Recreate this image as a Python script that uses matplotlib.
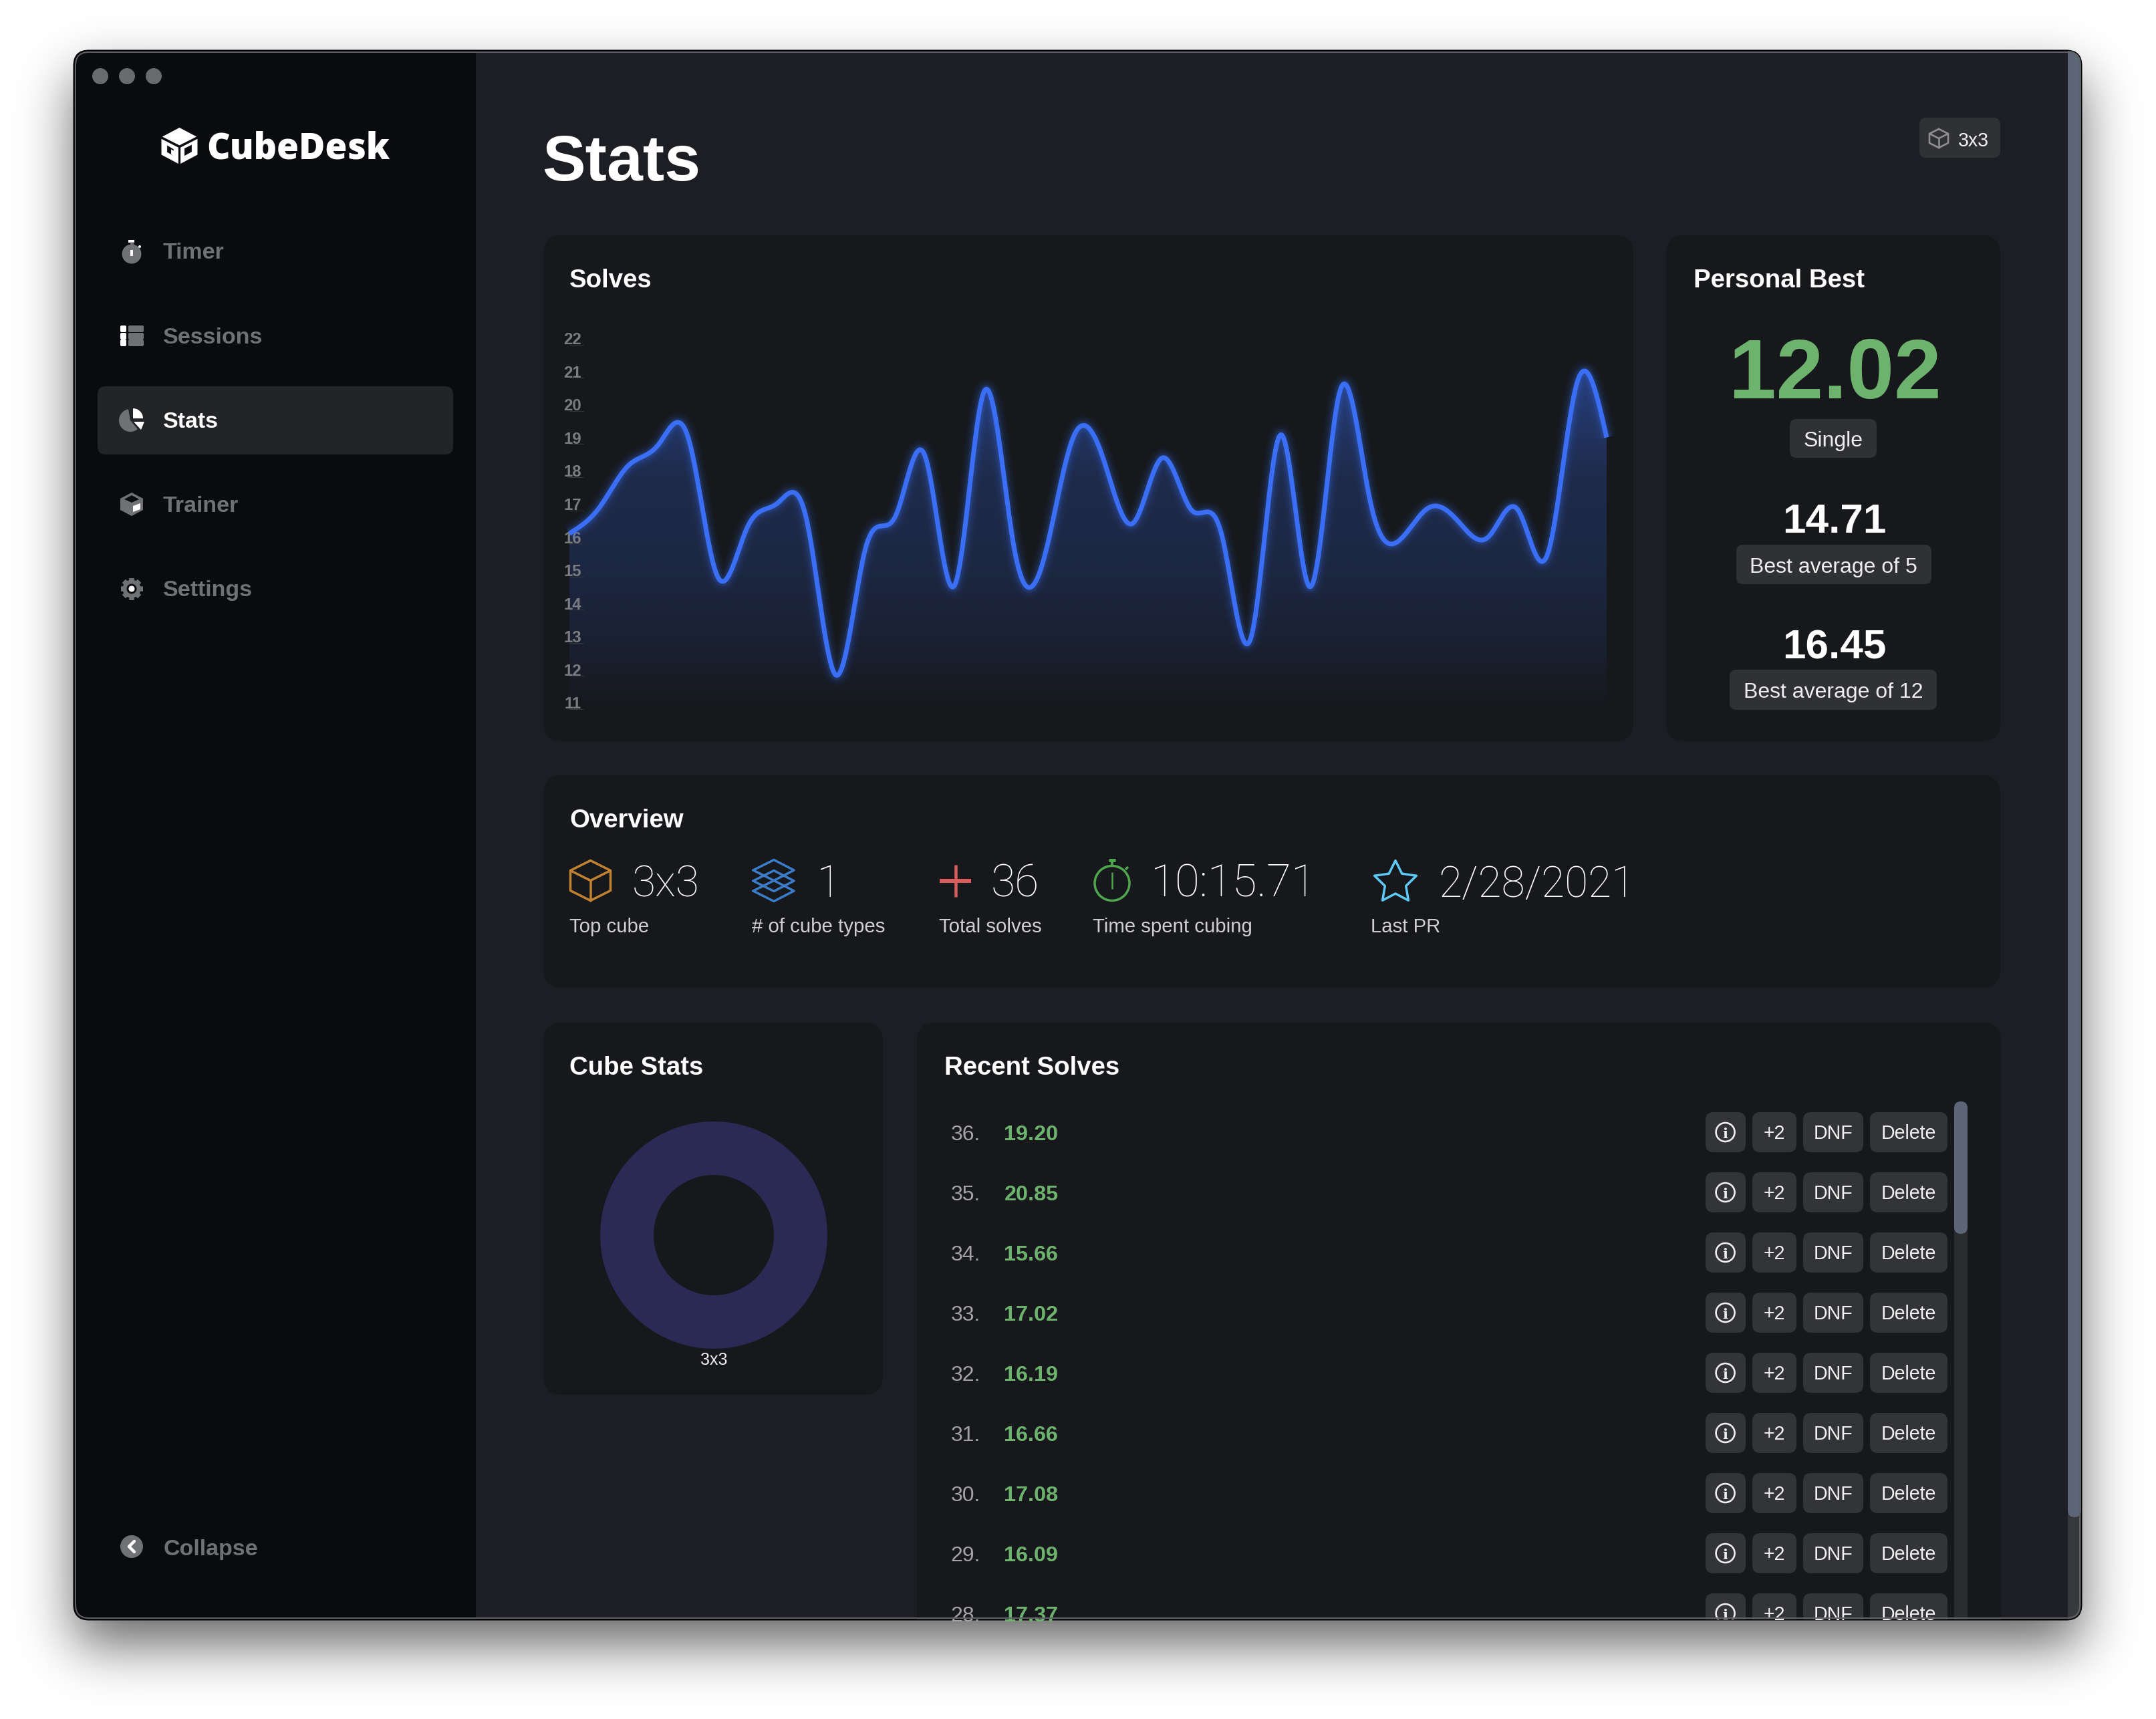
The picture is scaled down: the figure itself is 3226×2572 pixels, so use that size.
import math
import numpy as np
import matplotlib
matplotlib.use("Agg")
import matplotlib.pyplot as plt
import matplotlib.transforms as mtrans
from matplotlib.patches import FancyBboxPatch, Rectangle, Circle, Polygon, PathPatch
from matplotlib.path import Path
from matplotlib.lines import Line2D

# ---------- data ----------
solve_times = [16.30, 17.07, 18.36, 18.98, 19.22, 15.00, 16.48, 17.20, 16.73, 12.02,
               15.88, 16.82, 18.64, 14.74, 20.60, 15.90, 15.50, 19.20, 18.60, 16.60,
               18.58, 17.00, 16.30, 13.16, 19.28, 14.69, 20.60, 17.37, 16.09, 17.08,
               16.66, 16.19, 17.02, 15.66, 20.85, 19.20]
y_ticks = list(range(11, 23))
cube_names = ["3x3"]
cube_counts = [36]
pb_values = ["12.02", "14.71", "16.45"]
pb_labels = ["Single", "Best average of 5", "Best average of 12"]
overview_values = ["3x3", "1", "36", "10:15.71", "2/28/2021"]
overview_labels = ["Top cube", "# of cube types", "Total solves", "Time spent cubing", "Last PR"]
nav_items = ["Timer", "Sessions", "Stats", "Trainer", "Settings"]
row_buttons = ["+2", "DNF", "Delete"]
recent_count = 9

# ---------- canvas ----------
W, H = 3226, 2572
DPI = 100
FONT = "Liberation Sans"
def fs(px):
    return px * 72.0 / DPI

SIDEBAR = "#0a0b0e"; MAIN = "#1d1e23"; PANEL = "#16181c"; PILL = "#2f3135"; BTN = "#333438"
BLUE = "#3a6ff5"; GREEN = "#6db36d"; GREY = "#707174"; SLATE = "#5c6678"

fig = plt.figure(figsize=(W / DPI, H / DPI), dpi=DPI, facecolor="white")
ui = fig.add_axes([0, 0, 1, 1])
ui.set_axis_off()

WX0, WY0, WX1, WY1 = 111, 76, 3114, 2423

# soft window shadow
erf = np.vectorize(math.erf)
def blur(x0, y0, x1, y1, s):
    xs = np.arange(W) + .5; ys = np.arange(H) + .5
    bx = .5 * (erf((xs - x0) / (s * 2**.5)) - erf((xs - x1) / (s * 2**.5)))
    by = .5 * (erf((ys - y0) / (s * 2**.5)) - erf((ys - y1) / (s * 2**.5)))
    return np.outer(by, bx)
shadow = .6 * blur(WX0, WY0 + 38, WX1, WY1 + 38, 40)
ui.imshow(1 - shadow, cmap="gray", vmin=0, vmax=1, extent=(0, W, H, 0), aspect="auto", zorder=0)
ui.set_xlim(0, W); ui.set_ylim(H, 0)

win = FancyBboxPatch((WX0, WY0), WX1 - WX0, WY1 - WY0, boxstyle="round,pad=0,rounding_size=22",
                     fc=MAIN, ec="#000000", lw=fs(3), zorder=1)
ui.add_patch(win)

def rr(x0, y0, x1, y1, r, color, z=2):
    p = FancyBboxPatch((x0, y0), x1 - x0, y1 - y0, boxstyle=f"round,pad=0,rounding_size={r}",
                       fc=color, ec="none", lw=0, zorder=z)
    ui.add_patch(p); p.set_clip_path(win)
    return p

def t(x, y, s, px, color="white", weight="normal", ha="left", family=FONT, z=6):
    o = ui.text(x, y, s, fontsize=fs(px), color=color, fontweight=weight, ha=ha,
                va="center_baseline", family=family, zorder=z)
    o.set_clip_path(win)
    return o

def line(xs, ys, color, lw, z=5, join="round", cap="round"):
    l = Line2D(xs, ys, color=color, lw=fs(lw), zorder=z, solid_joinstyle=join, solid_capstyle=cap)
    ui.add_line(l); l.set_clip_path(win)

def poly(pts, color, z=5):
    p = Polygon(pts, closed=True, fc=color, ec="none", zorder=z)
    ui.add_patch(p)

def circ(x, y, r, fc, ec="none", lw=0, z=5):
    c = Circle((x, y), r, fc=fc, ec=ec, lw=fs(lw), zorder=z)
    ui.add_patch(c); c.set_clip_path(win)

def arc(cx, cy, r, a0, a1, n=40):
    a = np.radians(np.linspace(a0, a1, n))
    return list(zip(cx + r * np.cos(a), cy - r * np.sin(a)))

# sidebar
side = Rectangle((WX0, WY0), 712 - WX0, WY1 - WY0, fc=SIDEBAR, ec="none", zorder=2)
ui.add_patch(side); side.set_clip_path(win)
for cx in (150, 190, 230):
    circ(cx, 114, 12, "#6a6b6e")

# logo
def cube_logo(cx, cy, s, color, bg):
    top = [(cx, cy - s), (cx + .95 * s, cy - .5 * s), (cx, cy - .02 * s), (cx - .95 * s, cy - .5 * s)]
    poly(top, color)
    left = [(cx - s, cy - .38 * s), (cx - .06 * s, cy + .1 * s), (cx - .06 * s, cy + s), (cx - s, cy + .5 * s)]
    right = [(cx + s, cy - .38 * s), (cx + .06 * s, cy + .1 * s), (cx + .06 * s, cy + s), (cx + s, cy + .5 * s)]
    poly(left, color); poly(right, color)
    poly([(cx - .68 * s, cy - .02 * s), (cx - .32 * s, cy + .2 * s), (cx - .32 * s, cy + .28 * s), (cx - .46 * s, cy + .2 * s),
          (cx - .46 * s, cy + .5 * s), (cx - .32 * s, cy + .56 * s), (cx - .32 * s, cy + .56 * s), (cx - .68 * s, cy + .36 * s)], bg, 5.5)
    poly([(cx + .28 * s, cy + .15 * s), (cx + .68 * s, cy - .05 * s), (cx + .68 * s, cy + .34 * s), (cx + .28 * s, cy + .56 * s)], bg, 5.5)
cube_logo(268.5, 218, 27, "white", SIDEBAR)
t(309, 216, "CubeDesk", 53.5, weight=800, family="Open Sans")

# nav
rr(146, 578, 678, 680, 12, "#232427", 3)
nav_y = [375, 502, 628, 754, 880]
for name, y in zip(nav_items, nav_y):
    t(244, y, name, 34, color="white" if name == "Stats" else GREY, weight="bold")
# timer icon
circ(197, 380, 14.5, GREY); line([192, 201], [361, 361], "white", 4, cap="butt"); line([197, 197], [362, 366], GREY, 5, cap="butt")
line([197, 197], [374, 383], "white", 4, cap="butt"); circ(209, 369, 2, "white")
# sessions icon
for y0 in (487, 498, 508):
    rr(180, y0, 189, y0 + 10, 2, "white", 5); rr(192, y0, 215, y0 + 10, 2, GREY, 5)
# stats icon
poly([(195, 629)] + arc(195, 629, 17, 100, 310), GREY)
poly([(199, 626)] + arc(199, 626, 15, 0, 90), "white")
poly([(200, 631), (216, 631), (211, 643)], "white")
# trainer icon
poly([(197, 737), (214, 746), (214, 763), (197, 772), (180, 763), (180, 746)], GREY)
poly([(197, 741), (208, 747), (197, 752), (186, 747)], SIDEBAR, 5.5)
poly([(199, 757), (210, 753), (210, 762), (199, 766)], "white", 5.5)
# settings icon
for a in range(0, 360, 45):
    c, s_ = math.cos(math.radians(a)), math.sin(math.radians(a))
    line([197, 197 + 16.5 * c], [881, 881 + 16.5 * s_], GREY, 7.5, cap="butt")
circ(197, 881, 13.5, GREY); circ(197, 881, 7.5, SIDEBAR, z=5.5); circ(197, 881, 4.5, "white", z=5.6)
# collapse icon
circ(197, 2314, 17, GREY)
line([201, 193, 201], [2306, 2314, 2322], "white", 4.5, z=5.5)
t(245, 2315, "Collapse", 34, color=GREY, weight="bold")

# main scrollbar
rr(3094, WY0, 3114, WY1 + 20, 0, "#37383b", 2.5)
rr(3094, WY0 - 20, 3114, 2270, 10, SLATE, 2.6)

# title + badge
t(811, 235, "Stats", 97, weight="bold")
rr(2872, 176, 2993, 236, 10, PILL)
def cube_outline(cx, cy, s, color, lw):
    line([cx, cx + s, cx + s, cx, cx - s, cx - s, cx], [cy - s, cy - .5 * s, cy + .5 * s, cy + s, cy + .5 * s, cy - .5 * s, cy - s], color, lw)
    line([cx - s, cx, cx + s], [cy - .5 * s, cy, cy - .5 * s], color, lw)
    line([cx, cx], [cy, cy + s], color, lw)
cube_outline(2901, 207, 14, "#8f8f91", 2.6)
t(2930, 208, "3x3", 28.5, color="#f4f4f4")

# panels
rr(813, 352, 2444, 1109, 28, PANEL)
rr(2493, 352, 2993, 1109, 28, PANEL)
rr(813, 1160, 2993, 1478, 28, PANEL)
rr(813, 1530, 1321, 2087, 28, PANEL)
rr(1372, 1530, 2994, 2520, 28, PANEL)
t(852, 416, "Solves", 38.4, weight="bold")
t(2534, 416, "Personal Best", 38.4, weight="bold")
t(852, 1224, "Overview", 38.4, weight="bold")
t(852, 1594, "Cube Stats", 38.4, weight="bold")
t(1413, 1594, "Recent Solves", 38.4, weight="bold")

# personal best
PBX = 2745
t(PBX + .5, 550, pb_values[0], 127, color=GREEN, weight="bold", ha="center")
t(PBX, 775, pb_values[1], 62, weight="bold", ha="center")
t(PBX, 963, pb_values[2], 62, weight="bold", ha="center")
for (x0, x1, y0, y1), lab in zip([(2678, 2808, 627, 685), (2598, 2890, 815, 874), (2588, 2898, 1002, 1062)], pb_labels):
    rr(x0, y0, x1, y1, 10, PILL)
    t(2743, (y0 + y1) / 2 + .5, lab, 32, color="#eeeeee", ha="center")

# overview
ov_val_x = [946, 1222, 1483, 1722, 2152]
ov_lab_x = [852, 1125, 1405, 1635, 2051]
ov_val_px = [64, 66, 66, 67.5, 64]
for x, s, p in zip(ov_val_x, overview_values, ov_val_px):
    t(x, 1317, s, p, color="white", weight="light", family="Roboto")
for x, s in zip(ov_lab_x, overview_labels):
    t(x, 1384, s, 29.4, color="#cfcfd1")
# cube icon
cube_outline(883.5, 1317.5, 30, "#c08230", 3.5)
# layers icon
for cy in (1302, 1318, 1333):
    line([1127, 1158, 1188, 1158, 1127], [cy, cy - 15.5, cy, cy + 15.5, cy], "#3b7cc9", 3.5)
# plus icon
line([1406, 1453], [1318, 1318], "#d95d5d", 6, cap="butt"); line([1430, 1430], [1294, 1342], "#d95d5d", 4.5, cap="butt")
# stopwatch icon
circ(1664, 1321.5, 26, "none", "#4fa64f", 3.5); line([1664, 1664], [1305, 1330], "#4fa64f", 2.5, cap="butt")
line([1664, 1664], [1286, 1295], "#4fa64f", 3.5, cap="butt"); line([1659, 1669], [1287, 1287], "#4fa64f", 5, cap="butt")
line([1684, 1688], [1301, 1297], "#4fa64f", 3.5, cap="butt")
# star icon
star = []
for i in range(10):
    r = 33 if i % 2 == 0 else 16.5
    a = math.radians(90 + 36 * i)
    star.append((2088 + r * math.cos(a), 1320.5 - r * math.sin(a)))
ui.add_patch(Polygon(star, closed=True, fc="none", ec="#5cc8f5", lw=fs(3.5), zorder=5, joinstyle="round"))

# recent solves rows
rr(2924, 1648, 2944, WY1 + 30, 10, "#2b2c2e")
rr(2924, 1648, 2944, 1846, 10, SLATE, 3)
btn_spans = [(2622, 2688), (2698, 2788), (2798, 2914)]
for k in range(recent_count):
    y = 1694 + 90 * k
    t(1467, y, f"{len(solve_times) - k}.", 32, color="#a3a3a6", ha="right")
    t(1502.5, y, f"{solve_times[-1 - k]:.2f}", 32.4, color=GREEN, weight="bold")
    rr(2552, y - 30, 2612, y + 30, 12, BTN, 4)
    circ(2581.6, y, 14, "none", "#f0f0f0", 2.6)
    t(2581.6, y + 1, "i", 21, color="#f0f0f0", weight="bold", ha="center", family="DejaVu Serif")
    for (x0, x1), s in zip(btn_spans, row_buttons):
        rr(x0, y - 30, x1, y + 30, 12, BTN, 4)
        t((x0 + x1) / 2, y - .5, s, 28.5, color="#f2f2f2", ha="center")

# thin light inner edge of the window
inner = FancyBboxPatch((WX0 + 2, WY0 + 2), WX1 - WX0 - 4, WY1 - WY0 - 4, boxstyle="round,pad=0,rounding_size=20",
                       fc="none", ec="#5f6063", lw=fs(2), zorder=7)
ui.add_patch(inner)

# ---------- solves chart ----------
ch = fig.add_axes([852 / W, 1 - 1060.8 / H, (2404 - 852) / W, 545 / H], facecolor="none")
n = len(solve_times)
xd = np.arange(1, n + 1, dtype=float)
yd = np.array(solve_times)
# natural cubic spline through the solves
A = np.zeros((n, n)); b = np.zeros(n)
A[0, 0] = A[-1, -1] = 1
for i in range(1, n - 1):
    A[i, i - 1:i + 2] = 1, 4, 1
    b[i] = 6 * (yd[i + 1] - 2 * yd[i] + yd[i - 1])
M = np.linalg.solve(A, b)
xs = np.linspace(1, n, 2400)
idx = np.clip(np.floor(xs - 1).astype(int), 0, n - 2)
u = xs - xd[idx]; v = 1 - u
ys = v * yd[idx] + u * yd[idx + 1] + ((v**3 - v) * M[idx] + (u**3 - u) * M[idx + 1]) / 6

ch.set_xlim(1, n); ch.set_ylim(11, 22)
levels = np.linspace(11, 22, 300)
alpha = np.interp(levels, [11, 12, 14, 16, 18, 20, 21.5], [0.0, .055, .14, .19, .22, .36, .46])
rgba = np.zeros((300, 1, 4))
rgba[..., :3] = matplotlib.colors.to_rgb(BLUE); rgba[..., 3] = alpha[:, None]
im = ch.imshow(rgba, extent=(1, n, 11, 22), origin="lower", aspect="auto", zorder=1, interpolation="bilinear")
clip = PathPatch(Path(np.r_[np.c_[xs, ys], [[n, 11], [1, 11]]], closed=False), transform=ch.transData, fc="none", ec="none")
ch.add_patch(clip); im.set_clip_path(clip)
for lw, a in ((30, .035), (24, .05), (18, .08), (13, .14)):
    ch.plot(xs, ys, color=BLUE, lw=fs(lw), alpha=a, zorder=2, clip_on=False, solid_capstyle="butt")
ch.plot(xs, ys, color=BLUE, lw=fs(7), zorder=3, clip_on=False, solid_capstyle="butt")
ch.set_xticks([])
ch.set_yticks(y_ticks)
ch.set_yticklabels([str(v) for v in y_ticks], fontsize=fs(24), fontweight="bold", family=FONT, color="#7b7c80", va="center")
ch.tick_params(axis="y", direction="in", length=fs(21), width=fs(1), color="#34353a", pad=-fs(18), zorder=0)
shift = mtrans.ScaledTranslation(0, 7 / DPI, fig.dpi_scale_trans)
for lab in ch.get_yticklabels():
    lab.set_transform(lab.get_transform() + shift)
for s_ in ch.spines.values():
    s_.set_visible(False)

# ---------- cube stats donut ----------
R = 170
dn = fig.add_axes([(1068 - R) / W, 1 - (1848 + R) / H, 2 * R / W, 2 * R / H], facecolor="none")
dn.pie(cube_counts, colors=["#2a2a55"], radius=1, wedgeprops=dict(width=80 / 170, linewidth=0), startangle=90)
dn.set_xlim(-1, 1); dn.set_ylim(-1, 1)
t(1068, 2033, cube_names[0], 25, ha="center", color="#f0f0f0")

fig.savefig("out.png", dpi=DPI, facecolor="white")
